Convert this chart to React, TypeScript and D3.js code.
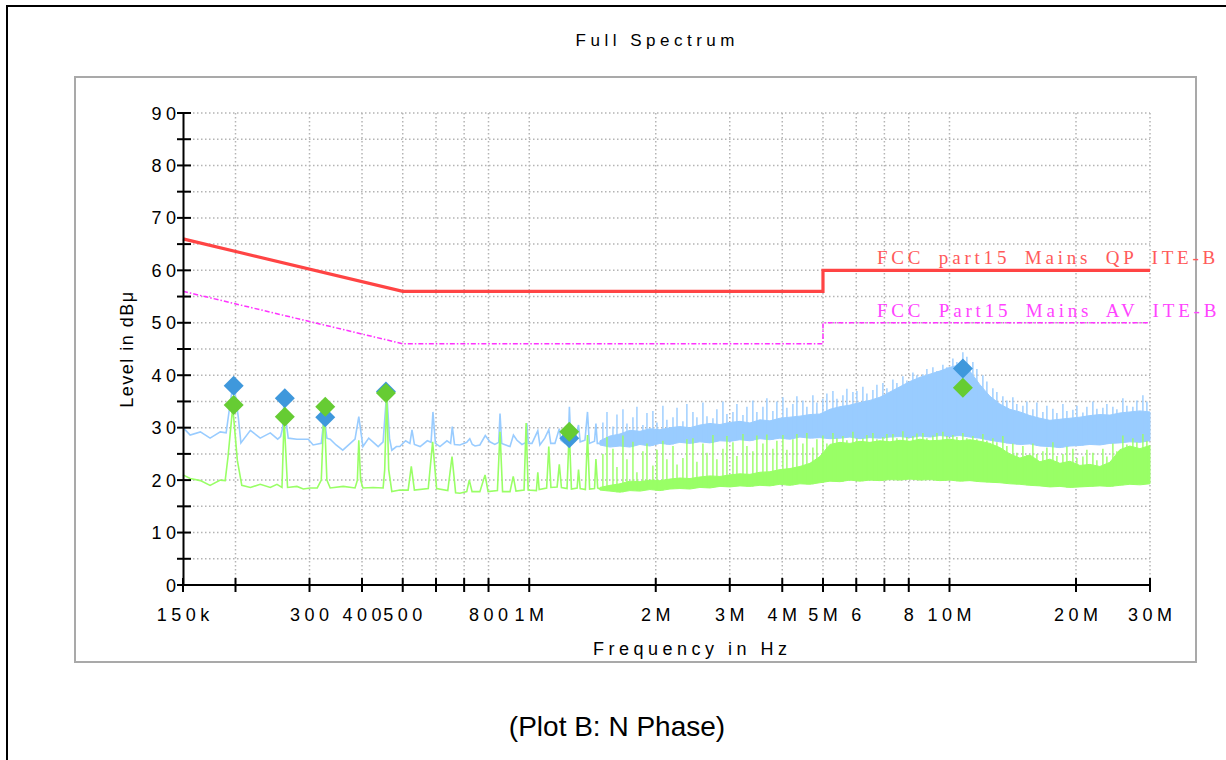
import React from "react";
import * as d3 from "d3";

// all frequencies in kHz, all levels in dBµV

// low frequency part of the traces, drawn as lines
const bluePeakLine: [number, number][] = [
  [150, 30.0], [156, 28.6], [165, 29.2], [174, 28.0], [184, 29.2], [190, 29.0], [193, 33.0], [197, 38.0],
  [200, 36.0], [203, 32.1], [206, 27.1], [217, 29.5], [229, 28.0], [242, 29.0], [252, 27.8], [256, 28.3],
  [259, 30.0], [261, 35.5], [264, 31.0], [267, 28.0], [280, 27.8], [298, 27.8], [306, 26.7], [320, 27.0],
  [325, 32.0], [330, 28.0], [336, 27.8], [347, 26.7], [360, 25.7], [385, 27.8], [393, 32.1], [402, 26.4],
  [415, 28.0], [437, 26.4], [449, 27.3], [458, 36.8], [465, 28.0], [471, 25.7], [483, 26.4], [492, 26.4],
  [508, 27.5], [520, 27.0], [526, 29.6], [533, 26.8], [550, 26.4], [572, 27.5], [584, 27.2], [590, 33.0],
  [598, 27.0], [613, 26.4], [637, 27.5], [650, 27.0], [656, 30.2], [664, 26.8], [684, 26.7], [710, 27.2],
  [722, 27.9], [732, 26.8], [743, 26.5], [763, 26.7], [786, 28.5], [806, 27.3], [828, 26.8], [846, 27.2],
  [852, 32.7], [860, 27.0], [900, 26.4], [917, 28.6], [935, 27.6], [961, 26.8], [983, 27.2], [987, 30.9],
  [995, 27.0], [1015, 27.0], [1048, 29.4], [1060, 26.7], [1089, 28.0], [1113, 29.6], [1125, 27.0],
  [1151, 27.0], [1179, 29.8], [1190, 27.6], [1216, 27.0], [1240, 28.2], [1246, 34.0], [1256, 27.5],
  [1285, 27.5], [1310, 30.5], [1322, 27.3], [1357, 27.6], [1376, 33.0], [1390, 27.0], [1430, 27.4],
  [1441, 30.8], [1452, 27.0], [1473, 27.0],
];

const greenAvgLine: [number, number][] = [
  [150, 21.0], [156, 20.3], [165, 19.9], [174, 19.0], [184, 20.0], [189, 19.9], [192, 24.5], [197, 34.0],
  [202, 23.8], [207, 19.0], [217, 18.6], [229, 19.2], [242, 18.6], [251, 19.2], [258, 18.6], [261, 31.8],
  [266, 18.6], [280, 18.8], [290, 18.3], [301, 18.5], [313, 18.5], [320, 20.0], [325, 34.0], [330, 20.0],
  [336, 18.5], [361, 18.8], [385, 18.5], [390, 20.0], [393, 27.6], [397, 20.0], [402, 18.5], [425, 18.6],
  [449, 18.5], [453, 22.0], [458, 36.6], [463, 22.0], [471, 17.8], [492, 18.1], [515, 18.1], [524, 22.6],
  [533, 18.1], [575, 18.4], [589, 27.3], [602, 18.4], [640, 18.0], [655, 24.5], [668, 17.6], [684, 17.5],
  [710, 17.8], [720, 20.0], [731, 17.8], [763, 17.8], [785, 21.0], [798, 17.8], [840, 18.0], [852, 29.2],
  [864, 17.8], [900, 17.8], [916, 20.7], [930, 17.9], [972, 18.1], [983, 30.9], [994, 18.1], [1040, 18.0],
  [1048, 21.5], [1056, 18.2], [1100, 18.5], [1113, 26.4], [1126, 18.6], [1165, 18.7], [1179, 23.0],
  [1193, 18.6], [1230, 18.4], [1245, 29.6], [1260, 18.3], [1300, 18.5], [1310, 22.0], [1322, 18.4],
  [1360, 18.2], [1376, 28.6], [1392, 18.3], [1430, 18.4], [1441, 24.0], [1455, 18.5], [1473, 18.3],
];

// dense part of the traces (above ~1.5 MHz): min / max band per column
const bandFreqs = [
  1473, 1556, 1644, 1736, 1834, 1937, 2046, 2162, 2283, 2412,
  2548, 2691, 2843, 3003, 3172, 3350, 3539, 3738, 3949, 4171,
  4406, 4654, 4916, 5194, 5486, 5795, 6121, 6466, 6830, 7215,
  7621, 8050, 8503, 8982, 9488, 10022, 10586, 11182, 11812, 12477,
  13179, 13920, 14708, 15535, 16410, 17335, 18312, 19343, 20432, 21582,
  22798, 24081, 25437, 26870, 28385, 30000,
];
const blueBandLo = [
  26.7, 26.3, 26.5, 26.3, 26.8, 26.5, 27.0, 26.8, 27.2, 27.0,
  27.3, 27.1, 27.5, 27.4, 27.7, 27.5, 27.9, 27.7, 28.0, 27.8,
  28.2, 28.0, 28.1, 27.9, 28.0, 28.2, 27.9, 28.1, 28.0, 28.2,
  28.3, 28.1, 28.4, 28.2, 28.5, 28.3, 28.5, 28.2, 28.0, 27.6,
  27.3, 27.0, 26.8, 26.9, 26.5, 26.4, 26.2, 26.5, 26.6, 26.8,
  26.7, 27.0, 27.1, 27.3, 27.2, 27.5,
];
const blueBandHi = [
  27.5, 28.4, 28.8, 29.5, 29.3, 29.8, 29.6, 30.0, 30.2, 30.0,
  30.5, 30.8, 30.6, 31.0, 31.2, 30.9, 31.5, 31.3, 31.8, 32.0,
  32.2, 32.5, 32.6, 33.5, 34.0, 34.3, 34.8, 35.2, 35.8, 36.8,
  37.8, 38.8, 39.6, 40.2, 40.8, 41.5, 42.0, 40.8, 38.2, 36.0,
  34.5, 33.5, 33.0, 32.3, 31.8, 31.4, 31.6, 31.8, 32.0, 32.3,
  32.5, 32.4, 32.8, 33.0, 33.2, 33.0,
];
const greenBandLo = [
  18.1, 17.9, 17.7, 18.0, 17.9, 18.2, 18.0, 18.3, 18.4, 18.3,
  18.6, 18.5, 18.8, 18.7, 18.9, 18.8, 19.0, 18.9, 19.2, 19.0,
  19.3, 19.2, 19.5, 19.8, 19.7, 20.0, 19.8, 20.0, 19.9, 20.1,
  20.0, 20.2, 20.0, 20.1, 19.9, 20.0, 19.8, 19.9, 19.7, 19.6,
  19.5, 19.3, 19.2, 19.0, 18.9, 18.7, 18.8, 18.6, 18.7, 18.8,
  18.9, 18.8, 19.0, 19.2, 19.1, 19.3,
];
const greenBandHi = [
  18.6, 19.0, 19.3, 19.8, 19.7, 20.0, 19.9, 20.2, 20.4, 20.3,
  20.6, 20.8, 20.7, 21.0, 21.2, 21.1, 21.5, 21.6, 22.0, 22.2,
  22.6, 23.2, 24.5, 26.8, 27.2, 27.0, 27.4, 27.2, 27.5, 27.3,
  27.6, 27.4, 27.8, 27.5, 27.6, 27.8, 27.5, 27.7, 27.4, 27.0,
  26.2, 25.0, 24.2, 24.8, 23.5, 24.0, 23.2, 23.6, 22.8, 23.0,
  22.6, 23.4, 25.8, 26.5, 26.0, 26.6,
];

// single spikes sticking out of the dense band
const spikeFreqs = [
  1497, 1531, 1582, 1617, 1671, 1708, 1765, 1804, 1864, 1906,
  1969, 2013, 2080, 2126, 2198, 2247, 2321, 2372, 2452, 2506,
  2590, 2648, 2736, 2796, 2890, 2954, 3053, 3120, 3225, 3296,
  3405, 3481, 3598, 3677, 3800, 3884, 4014, 4103, 4240, 4334,
  4479, 4578, 4731, 4836, 4997, 5108, 5280, 5397, 5577, 5700,
  5891, 6021, 6222, 6360, 6573, 6719, 6943, 7097, 7334, 7497,
  7747, 7919, 8183, 8365, 8644, 8835, 9131, 9333, 9645, 9859,
  10188, 10414, 10761, 11000, 11367, 11619, 12008, 12274, 12684, 12965,
  13397, 13694, 14151, 14464, 14952, 15283, 15792, 16142, 16682, 17052,
  17622, 18013, 18615, 19028, 19663, 20099, 20770, 21231, 21939, 22426,
  23176, 23689, 24480, 25023, 25858, 26432, 27315, 27920, 28855, 29494,
];
const blueSpikePeaks = [
  31.0, 33.0, 30.2, 32.5, 33.5, 30.8, 32.0, 34.0, 30.5, 32.8,
  33.2, 31.0, 34.2, 31.5, 32.0, 33.8, 31.2, 34.5, 33.0, 32.0,
  34.8, 32.2, 31.8, 33.5, 35.0, 32.6, 33.0, 34.5, 32.4, 34.0,
  35.2, 33.0, 34.0, 35.6, 33.2, 35.0, 35.8, 33.8, 34.5, 36.0,
  35.2, 34.0, 36.2, 34.8, 35.5, 36.5, 37.0, 35.5, 36.2, 37.4,
  36.8, 37.0, 37.8, 36.5, 37.2, 38.2, 38.5, 37.5, 39.2, 38.5,
  39.8, 39.0, 40.5, 40.0, 40.2, 41.2, 41.5, 40.8, 42.0, 41.5,
  43.2, 42.5, 44.4, 43.5, 42.5, 41.2, 40.0, 38.8, 37.5, 36.8,
  36.0, 35.2, 35.8, 34.5, 34.2, 35.0, 33.5, 34.8, 33.0, 34.2,
  33.6, 32.8, 34.5, 33.2, 33.4, 34.2, 32.9, 34.0, 35.0, 33.6,
  33.8, 34.5, 34.0, 33.5, 35.6, 34.2, 34.0, 35.2, 36.2, 35.0,
];
const greenSpikePeaks = [
  25.0, 28.2, 26.0, 22.5, 28.5, 24.0, 27.3, 21.5, 25.5, 27.0,
  22.8, 25.8, 27.5, 24.0, 26.5, 23.0, 24.2, 27.8, 28.0, 23.5,
  27.0, 25.2, 28.6, 24.0, 26.0, 28.4, 27.2, 24.6, 28.8, 26.5,
  25.5, 28.5, 27.0, 28.7, 26.0, 27.5, 28.6, 25.8, 27.8, 28.8,
  27.0, 29.0, 26.2, 27.8, 28.5, 27.0, 29.0, 28.0, 28.4, 27.6,
  29.2, 28.0, 28.0, 28.6, 29.0, 27.8, 28.2, 28.8, 28.8, 28.0,
  29.3, 28.2, 28.4, 28.9, 29.0, 28.0, 28.5, 29.0, 29.2, 28.4,
  28.6, 28.2, 29.0, 28.0, 28.4, 27.8, 28.8, 27.5, 28.0, 27.2,
  28.4, 26.5, 27.0, 25.2, 26.5, 24.8, 27.0, 25.0, 25.5, 26.2,
  27.2, 24.6, 25.0, 26.4, 26.0, 24.2, 24.5, 25.8, 25.2, 23.8,
  26.0, 24.5, 27.0, 25.5, 28.5, 26.8, 28.0, 27.2, 28.8, 27.5,
];

// final measurement markers
const peakMarkers: [number, number][] = [
  [198, 38.0], [262, 35.6], [327, 32.0], [456, 36.9], [1245, 28.0], [10760, 41.3],
];
const avgMarkers: [number, number][] = [
  [198, 34.3], [262, 32.1], [327, 34.0], [456, 36.6], [1245, 29.2], [10760, 37.6],
];

// limit lines
const qpLimit: [number, number][] = [[150, 66], [500, 56], [5000, 56], [5000, 60], [30000, 60]];
const avLimit: [number, number][] = [[150, 56], [500, 46], [5000, 46], [5000, 50], [30000, 50]];
const qpLabel = "FCC part15 Mains QP ITE-B";
const avLabel = "FCC Part15 Mains AV ITE-B";

const xTicks = [150, 200, 300, 400, 500, 600, 700, 800, 1000, 2000, 3000, 4000, 5000, 6000, 7000, 8000, 10000, 20000, 30000];
const xTickLabels = ["150k", "", "300", "400", "500", "", "", "800", "1M", "2M", "3M", "4M", "5M", "6", "", "8", "10M", "20M", "30M"];
const yTicks = [0, 5, 10, 15, 20, 25, 30, 35, 40, 45, 50, 55, 60, 65, 70, 75, 80, 85, 90];

const sans = "'Liberation Sans', Arial, sans-serif";
const serif = "'Liberation Serif', 'DejaVu Serif', serif";

export default function App() {
  const x = d3.scaleLog().domain([150, 30000]).range([183, 1150]);
  const y = d3.scaleLinear().domain([0, 90]).range([585, 113]);

  const line = d3.line<[number, number]>().x(d => x(d[0])).y(d => y(d[1]));
  const idx = bandFreqs.map((_, i) => i);
  const bluePath = d3.area<number>().x(i => x(bandFreqs[i]))
    .y0(i => y(blueBandLo[i])).y1(i => y(blueBandHi[i]))(idx);
  const greenPath = d3.area<number>().x(i => x(bandFreqs[i]))
    .y0(i => y(greenBandLo[i])).y1(i => y(greenBandHi[i]))(idx);
  const nearest = d3.bisector((d: number) => d).center;

  const diamond = (cx: number, cy: number, r: number) =>
    `M${cx},${cy - r}L${cx + r},${cy}L${cx},${cy + r}L${cx - r},${cy}Z`;

  const ls = 4.5;

  return (
    <svg width={1226} height={760} style={{ position: "absolute", left: 0, top: 0, background: "#fff" }}>
      <rect x={7} y={6} width={1240} height={800} fill="#fff" stroke="#000" strokeWidth={2} />
      <rect x={75} y={77} width={1121} height={585} fill="#fff" stroke="#a9a9a9" strokeWidth={2} />

      <text x={655 + ls / 2} y={46} textAnchor="middle" fontFamily={sans} fontSize={17} letterSpacing={ls}>Full Spectrum</text>

      {/* grid */}
      <g stroke="#b4b4b4" strokeWidth={1.5} strokeDasharray="1.5,2.5">
        {yTicks.filter(t => t > 0).map(t => (
          <line key={"h" + t} x1={185} x2={1150} y1={y(t)} y2={y(t)} />
        ))}
        {xTicks.slice(1).map(t => (
          <line key={"v" + t} x1={x(t)} x2={x(t)} y1={113} y2={584} />
        ))}
      </g>

      {/* limits */}
      <path d={line(qpLimit) || ""} fill="none" stroke="#ff4444" strokeWidth={3.2} />
      <path d={line(avLimit) || ""} fill="none" stroke="#ff33ff" strokeWidth={1.5} strokeDasharray="5,2,1.5,2" />
      <text x={877} y={264} fontFamily={serif} fontSize={19} letterSpacing={3.8}
        wordSpacing={6} fill="#ff5a5a">{qpLabel}</text>
      <text x={877} y={317} fontFamily={serif} fontSize={19} letterSpacing={3.8}
        wordSpacing={6} fill="#ff44ff">{avLabel}</text>

      {/* peak trace */}
      <g stroke="#99ccff" fill="#99ccff">
        <path d={line(bluePeakLine) || ""} fill="none" strokeWidth={1.6} />
        <path d={bluePath || ""} strokeWidth={1} />
        {spikeFreqs.map((f, i) => (
          <line key={i} x1={x(f)} x2={x(f)} y1={y(blueSpikePeaks[i])}
            y2={y(blueBandLo[nearest(bandFreqs, f)])} strokeWidth={1.4} />
        ))}
      </g>

      {/* average trace */}
      <g stroke="#99ff66" fill="#99ff66">
        <path d={line(greenAvgLine) || ""} fill="none" strokeWidth={1.6} />
        <path d={greenPath || ""} strokeWidth={1} />
        {spikeFreqs.map((f, i) => (
          <line key={i} x1={x(f)} x2={x(f)} y1={y(greenSpikePeaks[i])}
            y2={y(greenBandLo[nearest(bandFreqs, f)])} strokeWidth={1.4} />
        ))}
      </g>

      {peakMarkers.map(([f, v], i) => (
        <path key={"pm" + i} d={diamond(x(f), y(v), 10)} fill="#3f98dc" />
      ))}
      {avgMarkers.map(([f, v], i) => (
        <path key={"am" + i} d={diamond(x(f), y(v), 10)} fill="#66cc33" />
      ))}

      {/* axes */}
      <g stroke="#000" strokeWidth={2}>
        <line x1={183.5} x2={183.5} y1={112} y2={586} />
        <line x1={183} x2={1151} y1={585} y2={585} />
        {yTicks.map(t => (
          <line key={"yt" + t} x1={177} x2={191} y1={y(t)} y2={y(t)} />
        ))}
        {xTicks.map(t => (
          <line key={"xt" + t} x1={x(t)} x2={x(t)} y1={578} y2={592} />
        ))}
      </g>
      <g fontFamily={sans} fontSize={18} letterSpacing={ls} fill="#000">
        {yTicks.filter(t => t % 10 === 0).map(t => (
          <text key={"yl" + t} x={176 + ls} y={y(t) + 6.5} textAnchor="end">{t}</text>
        ))}
        {xTicks.map((t, i) => xTickLabels[i] ? (
          <text key={"xl" + t} x={x(t) + ls / 2} y={621} textAnchor="middle">{xTickLabels[i]}</text>
        ) : null)}
        <text x={690 + ls / 2} y={655} textAnchor="middle">Frequency in Hz</text>
      </g>
      <text transform="translate(133,349) rotate(-90)" textAnchor="middle" fontFamily={sans} fontSize={18} letterSpacing={1.5}>Level in dBμ</text>

      <text x={617} y={736} textAnchor="middle" fontFamily={sans} fontSize={28}>(Plot B: N Phase)</text>
    </svg>
  );
}
